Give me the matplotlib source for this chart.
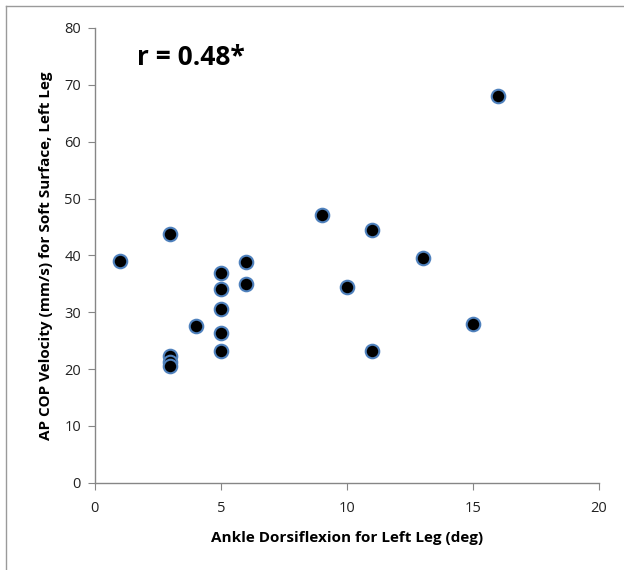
import matplotlib.pyplot as plt
from matplotlib.lines import Line2D

# Ankle dorsiflexion (deg) vs AP COP velocity (mm/s)
dorsiflexion = [1, 3, 3, 3, 3, 4, 5, 5, 5, 5, 5, 6, 6, 9, 10, 11, 11, 13, 15, 16]
velocity = [39.0, 43.8, 22.3, 21.2, 20.6, 27.6, 36.9, 34.0, 30.5, 26.3,
            23.2, 38.8, 34.9, 47.1, 34.4, 44.5, 23.2, 39.6, 28.0, 68.0]

x_ticks = [0, 5, 10, 15, 20]
y_ticks = [0, 10, 20, 30, 40, 50, 60, 70, 80]

plt.rcParams['font.family'] = ['Open Sans', 'DejaVu Sans']

fig = plt.figure(figsize=(6.24, 5.70), dpi=100)
ax = fig.add_axes([0.152, 0.153, 0.808, 0.798])

ax.scatter(dorsiflexion, velocity, s=95, color='black',
           edgecolors='#4f81bd', linewidths=1.5, zorder=3)

ax.set_xlim(0, 20)
ax.set_ylim(0, 80)
ax.set_xticks(x_ticks)
ax.set_yticks(y_ticks)

for side in ['top', 'right']:
    ax.spines[side].set_visible(False)
for side in ['left', 'bottom']:
    ax.spines[side].set_color('#868686')
    ax.spines[side].set_linewidth(1)
ax.tick_params(colors='#868686', labelcolor='#222222', labelsize=10.5, length=5, direction='out', pad=5)
ax.tick_params(axis='x', pad=8)

ax.set_xlabel('Ankle Dorsiflexion for Left Leg (deg)', fontsize=11, fontweight='bold', labelpad=11)
ax.set_ylabel('AP COP Velocity (mm/s) for Soft Surface, Left Leg', fontsize=11, fontweight='bold', labelpad=8)

ax.text(0.083, 0.935, 'r = 0.48*', transform=ax.transAxes, fontsize=19,
        fontweight='bold', va='center', ha='left')

# chart frame (left and top edges visible)
fig.add_artist(Line2D([0.0095, 0.0095], [0, 0.99], transform=fig.transFigure, color='#9a9a9a', lw=1))
fig.add_artist(Line2D([0.0095, 1], [0.99, 0.99], transform=fig.transFigure, color='#9a9a9a', lw=1))

plt.savefig('out.png', dpi=100)
plt.close()
